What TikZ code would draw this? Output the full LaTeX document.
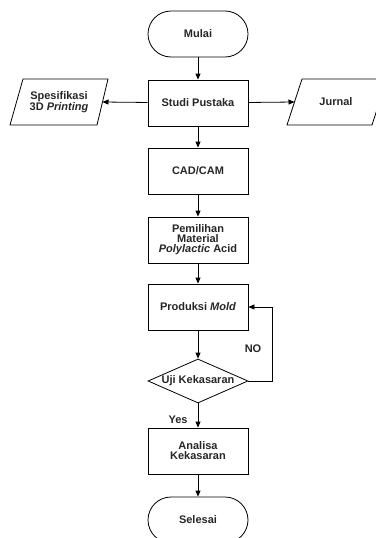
\documentclass[tikz,border=0pt]{standalone}
\usepackage{fontspec}
\setmainfont{Liberation Sans}
\usetikzlibrary{arrows.meta,shapes.geometric}
\begin{document}
\begin{tikzpicture}[x=1pt,y=-1pt,
  lw/.style={line width=0.8pt},
  box/.style={draw,lw,minimum width=100pt,minimum height=46pt,inner sep=0pt,align=center},
  term/.style={box,rounded corners=23pt},
  lbl/.style={font=\fontsize{11}{10}\selectfont\bfseries,align=center,text=black!85},
  arr/.style={draw,lw,-{Triangle[length=6pt,width=5pt]}}]
\useasboundingbox (0,0) rectangle (375,538);
% main column
\node[term,lbl] (mulai) at (198,34) {Mulai};
\node[box,lbl] (studi) at (198,103) {Studi Pustaka};
\node[box,lbl] (cad) at (198,171) {CAD/CAM};
\node[box,lbl] (pilih) at (198,240) {Pemilihan\\Material\\\textit{Polylactic} Acid};
\node[box,lbl] (prod) at (198,307) {Produksi \textit{Mold}};
\node[draw,lw,diamond,minimum width=100pt,minimum height=44pt,inner sep=0pt] (dia) at (198,381) {};
\node[lbl] (diatext) at (dia) {Uji Kekasaran};
\node[box,lbl] (anal) at (198,451) {Analisa\\Kekasaran};
\node[term,lbl] (selesai) at (198,520) {Selesai};
% input/output parallelograms
\draw[lw] (23,79) -- (108,79) -- (97,125) -- (10,125) -- cycle;
\coordinate (specR) at (102.5,102);
\node[lbl,font=\fontsize{11}{9}\selectfont\bfseries] (spec) at (59,102) {Spesifikasi\\3D \textit{Printing}};
\draw[lw] (302,79) -- (387,79) -- (372,125) -- (287,125) -- cycle;
\coordinate (jurL) at (294.5,102);
\node[lbl] (jurnal) at (336,102) {Jurnal};
% connectors
\draw[arr] (mulai) -- (studi);
\draw[arr] (studi) -- (specR);
\draw[arr] (studi) -- (jurL);
\draw[arr] (studi) -- (cad);
\draw[arr] (cad) -- (pilih);
\draw[arr] (pilih) -- (prod);
\draw[arr] (prod) -- (dia);
\coordinate (fb) at (272,381);
\draw[arr] (dia.east) -- (fb) |- (prod.east);
\draw[arr] (dia) -- (anal);
\draw[arr] (anal) -- (selesai);
\node[lbl] (no) at (253,349) {NO};
\node[lbl] (yes) at (178,420) {Yes};
\end{tikzpicture}
\end{document}
